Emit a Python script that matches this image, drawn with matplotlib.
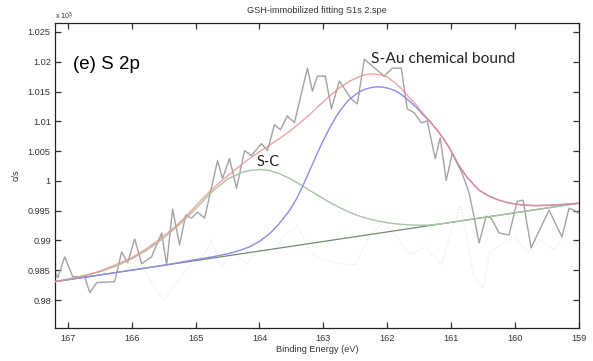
import matplotlib
matplotlib.use("Agg")
import matplotlib.pyplot as plt
from matplotlib.ticker import FuncFormatter, FixedLocator

# ---- raw spectrum (binding energy, counts x1e5) ----
data_be = [167.203, 167.156, 167.047, 166.922, 166.734, 166.656, 166.547, 166.266,
           166.156, 166.063, 165.953, 165.844, 165.688, 165.531, 165.453, 165.359,
           165.25, 165.156, 165.063, 164.969, 164.859, 164.75, 164.656, 164.578,
           164.469, 164.359, 164.234, 164.125, 163.969, 163.875, 163.766, 163.672,
           163.563, 163.453, 163.25, 163.172, 163.094, 162.969, 162.875, 162.75,
           162.563, 162.469, 162.359, 162.25, 162.141, 162.047, 161.922, 161.781,
           161.688, 161.578, 161.469, 161.375, 161.25, 161.172, 161.078, 160.984,
           160.828, 160.719, 160.641, 160.563, 160.453, 160.375, 160.25, 160.094,
           159.969, 159.875, 159.75, 159.469, 159.266, 159.156, 159.047, 159.016]
data_cps = [0.98475, 0.98375, 0.98725, 0.98392, 0.98392, 0.98125, 0.98292, 0.98308,
            0.98808, 0.98625, 0.99025, 0.98608, 0.98725, 0.99125, 0.98592, 0.99525,
            0.98925, 0.99425, 0.99375, 0.99475, 0.99375, 0.99892, 1.00342, 1.00042,
            1.00375, 0.99875, 1.00508, 1.00425, 1.00625, 1.00508, 1.00942, 1.00858,
            1.01092, 1.00975, 1.01892, 1.01508, 1.01758, 1.01758, 1.01208, 1.01675,
            1.01375, 1.01292, 1.02042, 1.01942, 1.01842, 1.01758, 1.01892, 1.01892,
            1.01208, 1.01142, 1.00975, 1.01008, 1.00375, 1.00725, 1.00008, 1.00458,
            1.00125, 0.99792, 0.99392, 0.98958, 0.99408, 0.99375, 0.99125, 0.99092,
            0.99658, 0.99675, 0.98875, 0.99508, 0.99058, 0.99542, 0.99492, 0.99458]

# ---- background (straight line) ----
bg_be = [167.2, 159.0]
bg_cps = [0.98308, 0.99625]

# ---- S-C component (on background) ----
sc_be = [167.2, 167.0, 166.75, 166.5, 166.25, 166.0, 165.75, 165.5, 165.25, 165.0,
         164.75, 164.5, 164.25, 164.125, 164.0, 163.844, 163.7, 163.531, 163.38,
         163.219, 163.06, 162.906, 162.75, 162.594, 162.44, 162.281, 162.12, 161.969,
         161.8, 161.656, 161.5, 161.344, 161.19, 161.031, 160.5, 160.0, 159.5, 159.0]
sc_cps = [0.98310, 0.98350, 0.98405, 0.98475, 0.98565, 0.98690, 0.98845, 0.99040,
          0.99270, 0.99530, 0.99810, 1.00030, 1.00150, 1.00178, 1.00190, 1.00175,
          1.00125, 1.00042, 0.99950, 0.99842, 0.99740, 0.99642, 0.99555, 0.99475,
          0.99410, 0.99358, 0.99320, 0.99292, 0.99272, 0.99260, 0.99255, 0.99258,
          0.99275, 0.99299, 0.99384, 0.99464, 0.99545, 0.99625]

# ---- S-Au component (on background) ----
sau_be = [167.2, 166.5, 166.0, 165.5, 165.0, 164.75, 164.5, 164.3, 164.156, 164.0,
          163.844, 163.7, 163.531, 163.43, 163.328, 163.22, 163.109, 163.0, 162.906,
          162.8, 162.703, 162.6, 162.484, 162.38, 162.281, 162.18, 162.078, 161.97,
          161.859, 161.76, 161.656, 161.55, 161.453, 161.34, 161.234, 161.13, 161.031,
          160.95, 160.875, 160.75, 160.65, 160.563, 160.4, 160.25, 160.1, 159.89,
          159.7, 159.47, 159.25, 159.0]
sau_cps = [0.98308, 0.98420, 0.98501, 0.98584, 0.98678, 0.98722, 0.98775, 0.98835,
           0.98892, 0.98985, 0.99110, 0.99270, 0.99500, 0.99680, 0.99900, 1.00160,
           1.00430, 1.00680, 1.00880, 1.01080, 1.01230, 1.01360, 1.01460, 1.01525,
           1.01560, 1.01578, 1.01575, 1.01550, 1.01505, 1.01435, 1.01340, 1.01240,
           1.01125, 1.01000, 1.00870, 1.00720, 1.00558, 1.00400, 1.00250, 1.00060,
           0.99940, 0.99842, 0.99740, 0.99675, 0.99630, 0.99595, 0.99585, 0.99590,
           0.99605, 0.99625]

# ---- fit envelope ----
env_be = [167.2, 167.0, 166.734, 166.5, 166.266, 166.0, 165.797, 165.6, 165.375,
          165.2, 165.047, 164.9, 164.75, 164.578, 164.4, 164.2, 164.0, 163.844, 163.7,
          163.531, 163.38, 163.219, 163.06, 162.906, 162.75, 162.594, 162.438, 162.33,
          162.234, 162.13, 162.0, 161.859, 161.76, 161.656, 161.55, 161.453, 161.34,
          161.234, 161.13, 161.031, 160.95, 160.875, 160.75, 160.65, 160.563, 160.4,
          160.25, 160.1, 159.89, 159.7, 159.47, 159.25, 159.0]
env_cps = [0.98310, 0.98345, 0.98410, 0.98480, 0.98585, 0.98710, 0.98842, 0.98990,
           0.99180, 0.99350, 0.99520, 0.99690, 0.99850, 1.00015, 1.00170, 1.00340,
           1.00490, 1.00600, 1.00700, 1.00830, 1.00960, 1.01110, 1.01270, 1.01420,
           1.01560, 1.01670, 1.01750, 1.01785, 1.01795, 1.01785, 1.01745, 1.01630,
           1.01525, 1.01400, 1.01280, 1.01145, 1.01010, 1.00875, 1.00722, 1.00558,
           1.00400, 1.00250, 1.00060, 0.99940, 0.99842, 0.99740, 0.99675, 0.99630,
           0.99595, 0.99585, 0.99590, 0.99605, 0.99625]

# ---- residual (faint dotted) ----
res_be = [166.5, 166.2, 165.9, 165.7, 165.5, 165.3, 165.1, 164.9, 164.75, 164.6,
          164.4, 164.2, 164.0, 163.8, 163.6, 163.4, 163.2, 163.0, 162.7, 162.5,
          162.3, 162.05, 161.85, 161.65, 161.4, 161.15, 161.0, 160.85, 160.65,
          160.5, 160.4, 160.2, 160.0, 159.8, 159.6, 159.4, 159.2]
res_cps = [0.9850, 0.9835, 0.9870, 0.9830, 0.9800, 0.9830, 0.9855, 0.9870, 0.9900,
           0.9855, 0.9880, 0.9860, 0.9885, 0.9875, 0.9910, 0.9925, 0.9880, 0.9868,
           0.9860, 0.9860, 0.9905, 0.9932, 0.9905, 0.9877, 0.9888, 0.9860, 0.9915,
           0.9958, 0.9840, 0.9820, 0.9880, 0.9895, 0.9905, 0.9880, 0.9900, 0.9885,
           0.9910]

x_ticks = [167, 166, 165, 164, 163, 162, 161, 160, 159]
y_ticks = [0.98, 0.985, 0.99, 0.995, 1.0, 1.005, 1.01, 1.015, 1.02, 1.025]

plt.rcParams['font.family'] = ['Liberation Sans', 'DejaVu Sans']

fig = plt.figure(figsize=(5.93, 3.61), dpi=100)
ax = fig.add_axes([0.0927, 0.0914, 0.9764 - 0.0927, 0.9363 - 0.0914])

ax.plot(res_be, res_cps, color='#f7dde1', lw=0.8, ls=(0, (1, 1.5)), zorder=1)
ax.plot(data_be, data_cps, color='#a3a3a3', lw=1.0, zorder=2)
ax.plot(bg_be, bg_cps, color='#6f8c72', lw=0.9, zorder=3)
ax.plot(sc_be, sc_cps, color='#a9c4a6', lw=1.0, zorder=3)
ax.plot(sau_be, sau_cps, color='#8c8cea', lw=1.0, zorder=3)
ax.plot(env_be, env_cps, color='#ee8c8c', lw=1.0, alpha=0.8, zorder=4)

ax.set_xlim(167.2, 159.0)
ax.set_ylim(0.9753, 1.0265)
ax.xaxis.set_major_locator(FixedLocator(x_ticks))
ax.yaxis.set_major_locator(FixedLocator(y_ticks))
ax.yaxis.set_major_formatter(FuncFormatter(lambda v, p: '%g' % round(v, 4)))
ax.xaxis.set_major_formatter(FuncFormatter(lambda v, p: '%g' % v))
ax.tick_params(direction='in', length=4, width=0.9, top=True, right=True,
               labelsize=6.6, colors='#333333', pad=3)
ax.tick_params(axis='x', pad=4)
for s in ax.spines.values():
    s.set_color('#222222')
    s.set_linewidth(0.9)

ax.set_title('GSH-immobilized fitting S1s 2.spe', fontsize=6.6, color='#333333', pad=7)
ax.set_xlabel('Binding Energy (eV)', fontsize=6.6, color='#333333', labelpad=2)
ax.set_ylabel('c/s', fontsize=6.6, color='#333333', labelpad=5)
fig.text(0.093, 0.956, r'x 10$^5$', fontsize=5.2, color='#333333', ha='left', va='center')

ax.text(166.92, 1.0195, '(e) S 2p', fontsize=13.5, color='black', ha='left', va='center')
ax.text(161.13, 1.0204, 'S-Au chemical bound', fontsize=11.2, family=['Lato', 'DejaVu Sans'],
        color='#222222', ha='center', va='center')
ax.text(163.87, 1.0032, 'S-C', fontsize=10.5, family=['Lato', 'DejaVu Sans'],
        color='#222222', ha='center', va='center')

fig.savefig('out.png', dpi=100)
